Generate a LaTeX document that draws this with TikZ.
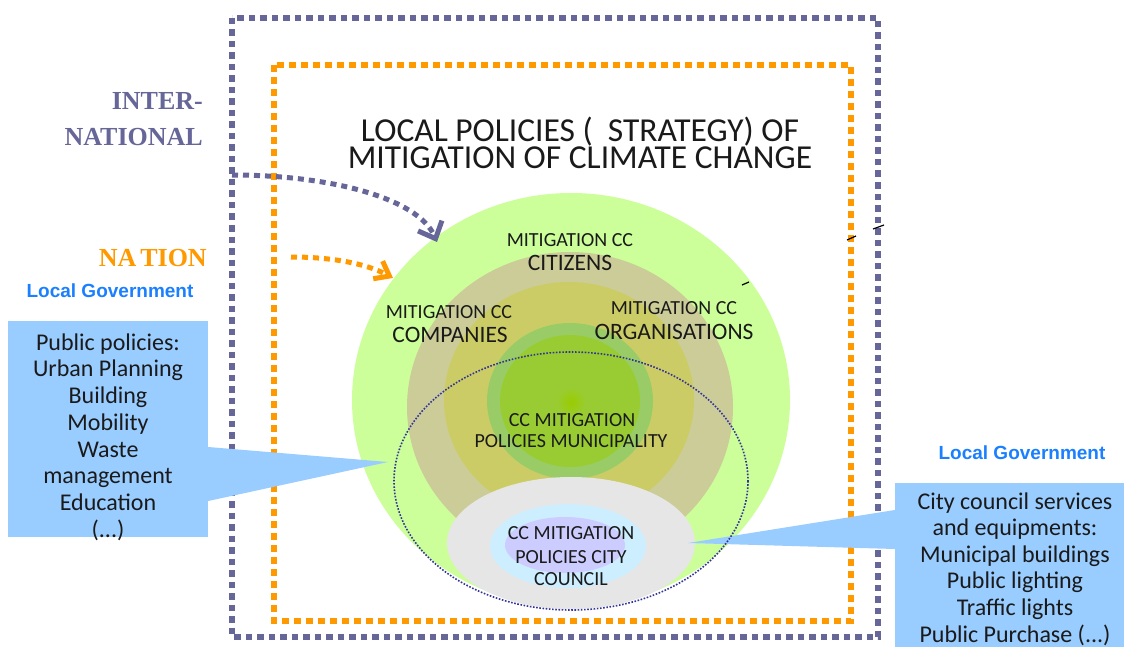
\documentclass[tikz,border=0pt]{standalone}
\usepackage{fontspec}
\setmainfont{Carlito}
\newfontfamily\timesfont{Liberation Serif}
\newfontfamily\arialfont{Liberation Sans}
\usetikzlibrary{arrows.meta,positioning}

\definecolor{framepurple}{HTML}{666699}
\definecolor{frameorange}{HTML}{FF9900}
\definecolor{ringlime}{HTML}{CCFF99}
\definecolor{ringtan}{HTML}{CCCC99}
\definecolor{ringolive}{HTML}{CCCC66}
\definecolor{ringgreen}{HTML}{99CC66}
\definecolor{coregreen}{HTML}{99CC33}
\definecolor{corespot}{HTML}{99CC00}
\definecolor{councilgray}{HTML}{E6E6E6}
\definecolor{councilblue}{HTML}{CCEEFF}
\definecolor{councillilac}{HTML}{CCCCFF}
\definecolor{calloutblue}{HTML}{99CCFF}
\definecolor{govblue}{HTML}{1A80FF}
\definecolor{dotnavy}{HTML}{333399}
\definecolor{inktext}{HTML}{1A1A1A}

\tikzset{
  purpleframe/.style={draw=framepurple, line width=6pt, dash pattern=on 6.5pt off 5pt},
  orangeframe/.style={draw=frameorange, line width=6pt, dash pattern=on 7pt off 5pt},
  bluebox/.style={fill=calloutblue, inner sep=0pt},
  smallcap/.style={anchor=base, inner sep=0pt, text=inktext, font=\fontsize{20}{22}\selectfont},
  bigcap/.style={anchor=base, inner sep=0pt, text=inktext, font=\fontsize{23.5}{26}\selectfont},
  levellabel/.style={anchor=base east, inner sep=0pt, font=\timesfont\bfseries\fontsize{26}{30}\selectfont},
  govlabel/.style={anchor=base, inner sep=0pt, text=govblue, font=\arialfont\bfseries\fontsize{19}{20}\selectfont},
  boxtext/.style={inner sep=0pt, text=inktext, align=center},
}

\begin{document}
\begin{tikzpicture}[x=1pt, y=-1pt]
\clip (0,0) rectangle (1124,647);
\fill[white] (0,0) rectangle (1124,647);

% frames: international and national level
\draw[purpleframe] (232,18) rectangle (878,637);
\draw[orangeframe] (274,65) rectangle (851,621);

% title (base anchor sits on the second line)
\node[boxtext, anchor=base, font={\fontsize{33.5}{27}\selectfont\lineskiplimit=-40pt}] (title) at (580,169)
  {LOCAL POLICIES (\ \ STRATEGY) OF\\MITIGATION OF CLIMATE CHANGE};

% levels on the left
\node[levellabel, text=framepurple] (inter) at (203,109.5) {INTER-};
\node[levellabel, text=framepurple] (national) at (203,146) {NATIONAL};
\node[levellabel, text=frameorange] (nation) at (207,266.5) {NA\kern4pt TION};
\node[govlabel] (govleft) at (110,297.6) {Local Government};
\node[govlabel] (govright) at (1022,459.6) {Local Government};

% nested rings of mitigation
\fill[ringlime] (571,400) ellipse [x radius=219, y radius=207];
\fill[ringtan] (570,407) ellipse [x radius=163, y radius=155];
\fill[ringolive] (569,400) ellipse [x radius=125, y radius=118];
\fill[ringgreen] (570,401) ellipse [x radius=83, y radius=78];
\fill[coregreen] (570,401) ellipse [x radius=70, y radius=66];
\shade[inner color=corespot, outer color=coregreen] (571,402) circle (15);

% city council
\fill[councilgray] (571,543) ellipse [x radius=124, y radius=66];
\fill[councilblue] (568,546) ellipse [x radius=78, y radius=42];
\fill[councillilac] (565,545) ellipse [x radius=60, y radius=28];

% arrows from the upper levels
\coordinate (intlstart) at (232,175);
\coordinate (intltip) at (437,242);
\coordinate (natstart) at (291,257);
\coordinate (nattip) at (393,278);
\draw[purpleframe, line width=5pt, dash pattern=on 6pt off 5pt,
      -{Straight Barb[length=14pt, width=26pt]}]
  (intlstart) .. controls (330,175) and (418,198) .. (intltip);
\draw[orangeframe, line width=5pt, dash pattern=on 6pt off 5pt,
      -{Straight Barb[length=13pt, width=20pt]}]
  (natstart) .. controls (330,257) and (365,263) .. (nattip);

% public policies box
\node[bluebox, minimum width=200, minimum height=216] (pubbox) at (108,429) {};
\coordinate (pubtip) at (388,462);
\fill[calloutblue] ([yshift=-18pt]pubbox.east) -- (pubtip) -- ([yshift=-72pt]pubbox.east) -- cycle;
\node[boxtext, font=\fontsize{24}{26.7}\selectfont] (pubtext) at (108,437)
  {Public policies:\\Urban Planning\\Building\\Mobility\\Waste\\management\\Education\\(...)};

% city council services box
\node[bluebox, minimum width=230, minimum height=164] (citybox) at (1010,565) {};
\coordinate (citytip) at (688,543);
\fill[calloutblue] ([yshift=55pt]citybox.west) -- (citytip) -- ([yshift=16pt]citybox.west) -- cycle;
\node[boxtext, font=\fontsize{24}{26.6}\selectfont] (citytext) at (1015,569)
  {City council services\\and equipments:\\Municipal buildings\\Public lighting\\Traffic lights\\Public Purchase (...)};

% municipality scope
\draw[dotnavy, line width=1.6pt, dash pattern=on 1.6pt off 1.6pt] (571,481) ellipse [x radius=177, y radius=129];

% ring labels
\node[smallcap] (citmit) at (570,246.5) {MITIGATION CC};
\node[bigcap] (citizens) at (570,270.5) {CITIZENS};
\node[smallcap] (commit) at (449,318.5) {MITIGATION CC};
\node[bigcap] (companies) at (450,342.5) {COMPANIES};
\node[smallcap] (orgmit) at (674,314.5) {MITIGATION CC};
\node[bigcap] (organisations) at (674,339.5) {ORGANISATIONS};
\node[smallcap] (munmit) at (572,426.5) {CC MITIGATION};
\node[smallcap] (munpol) at (571,447.5) {POLICIES MUNICIPALITY};
\node[smallcap] (counmit) at (571,539.5) {CC MITIGATION};
\node[smallcap] (counpol) at (571,563.5) {POLICIES CITY};
\node[smallcap] (council) at (571,585.5) {COUNCIL};

% small stray marks
\draw[black, line width=1.2pt] (847,240) -- (856,236);
\draw[black, line width=1.2pt] (873,229) -- (884,225);
\draw[black, line width=1.2pt] (742,285) -- (749,282);
\end{tikzpicture}
\end{document}
